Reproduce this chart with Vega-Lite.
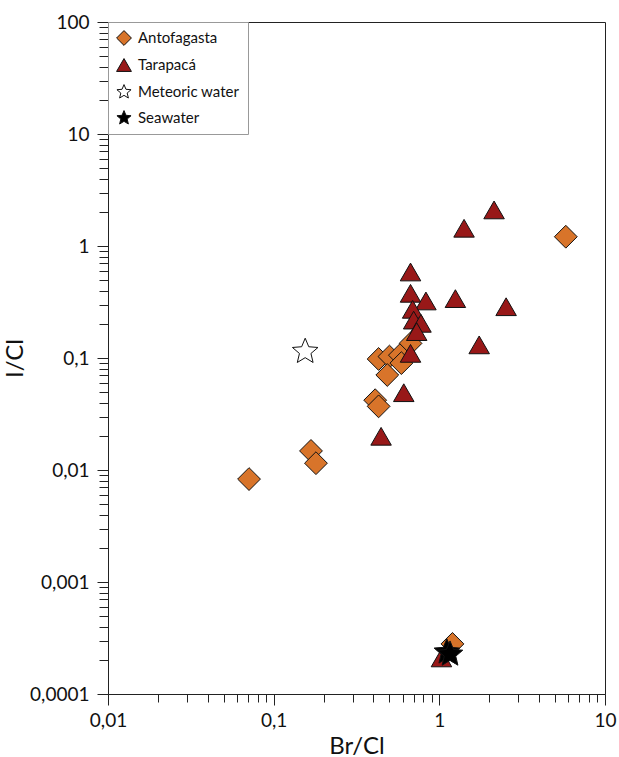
{
  "$schema": "https://vega.github.io/schema/vega-lite/v6.json",
  "autosize": {"type": "none"},
  "padding": {"left": 108, "top": 22, "right": 14, "bottom": 63},
  "width": 497,
  "height": 672,
  "background": "white",
  "config": {
    "font": "Lato",
    "view": {"stroke": "#222", "strokeWidth": 1},
    "axis": {
      "domainColor": "#222",
      "tickColor": "#222",
      "labelColor": "#111",
      "titleColor": "#111",
      "labelFontSize": 19,
      "titleFontSize": 24,
      "titleFontWeight": "normal",
      "labelFont": "Lato",
      "titleFont": "Lato",
      "grid": false,
      "labelOverlap": false,
      "labelFlush": false
    }
  },
  "data": {
    "values": [
      {"group": "Antofagasta", "br": 5.8, "i": 1.21},
      {"group": "Antofagasta", "br": 0.67, "i": 0.135},
      {"group": "Antofagasta", "br": 0.43, "i": 0.098},
      {"group": "Antofagasta", "br": 0.5, "i": 0.103},
      {"group": "Antofagasta", "br": 0.578, "i": 0.106},
      {"group": "Antofagasta", "br": 0.59, "i": 0.09},
      {"group": "Antofagasta", "br": 0.485, "i": 0.0705},
      {"group": "Antofagasta", "br": 0.41, "i": 0.042},
      {"group": "Antofagasta", "br": 0.43, "i": 0.037},
      {"group": "Antofagasta", "br": 0.071, "i": 0.0083},
      {"group": "Antofagasta", "br": 0.168, "i": 0.0148},
      {"group": "Antofagasta", "br": 0.18, "i": 0.0115},
      {"group": "Antofagasta", "br": 1.2, "i": 0.00028},
      {"group": "Tarapacá", "br": 2.14, "i": 2.1},
      {"group": "Tarapacá", "br": 1.41, "i": 1.44},
      {"group": "Tarapacá", "br": 0.67, "i": 0.586},
      {"group": "Tarapacá", "br": 0.67, "i": 0.378},
      {"group": "Tarapacá", "br": 0.83, "i": 0.323},
      {"group": "Tarapacá", "br": 1.25, "i": 0.339},
      {"group": "Tarapacá", "br": 2.53, "i": 0.287},
      {"group": "Tarapacá", "br": 0.69, "i": 0.272},
      {"group": "Tarapacá", "br": 0.7, "i": 0.218},
      {"group": "Tarapacá", "br": 0.775, "i": 0.204},
      {"group": "Tarapacá", "br": 0.73, "i": 0.172},
      {"group": "Tarapacá", "br": 1.74, "i": 0.131},
      {"group": "Tarapacá", "br": 0.67, "i": 0.11},
      {"group": "Tarapacá", "br": 0.61, "i": 0.049},
      {"group": "Tarapacá", "br": 0.445, "i": 0.02},
      {"group": "Tarapacá", "br": 1.03, "i": 0.00021},
      {"group": "Meteoric water", "br": 0.155, "i": 0.114},
      {"group": "Seawater", "br": 1.11, "i": 0.000236},
      {"group": "Seawater", "br": 1.16, "i": 0.000226}
    ]
  },
  "layer": [
    {
      "mark": {"type": "point", "opacity": 0},
      "encoding": {
        "x": {
          "field": "br", "type": "quantitative",
          "scale": {"type": "log", "domain": [0.01, 10], "nice": false},
          "axis": {
            "orient": "bottom",
            "title": null,
            "labels": false,
            "domain": false,
            "values": [0.02,0.03,0.04,0.05,0.06,0.07,0.08,0.09,0.2,0.3,0.4,0.5,0.6,0.7,0.8,0.9,2,3,4,5,6,7,8,9],
            "tickSize": 8
          }
        },
        "y": {
          "field": "i", "type": "quantitative",
          "scale": {"type": "log", "domain": [0.0001, 100], "nice": false},
          "axis": {
            "orient": "left",
            "title": null,
            "labels": false,
            "domain": false,
            "values": [0.0002,0.0003,0.0004,0.0005,0.0006,0.0007,0.0008,0.0009,0.002,0.003,0.004,0.005,0.006,0.007,0.008,0.009,0.02,0.03,0.04,0.05,0.06,0.07,0.08,0.09,0.2,0.3,0.4,0.5,0.6,0.7,0.8,0.9,2,3,4,5,6,7,8,9,20,30,40,50,60,70,80,90],
            "tickSize": 9
          }
        }
      }
    },
    {
      "encoding": {
        "x": {
          "field": "br", "type": "quantitative",
          "scale": {"type": "log", "domain": [0.01, 10], "nice": false},
          "axis": {
            "orient": "bottom",
            "title": "Br/Cl",
            "values": [0.01, 0.1, 1, 10],
            "labelExpr": "replace(datum.value + '', '.', ',')",
            "tickSize": 11,
            "labelPadding": 6,
            "titlePadding": 4
          }
        },
        "y": {
          "field": "i", "type": "quantitative",
          "scale": {"type": "log", "domain": [0.0001, 100], "nice": false},
          "axis": {
            "orient": "left",
            "title": "I/Cl",
            "values": [0.0001, 0.001, 0.01, 0.1, 1, 10, 100],
            "labelExpr": "replace(datum.value + '', '.', ',')",
            "tickSize": 11,
            "labelPadding": 8,
            "titlePadding": 2
          }
        },
        "color": {
          "field": "group", "type": "nominal",
          "scale": {"domain": ["Antofagasta", "Tarapacá", "Meteoric water", "Seawater"], "range": ["#D8742A", "#981818", "#FFFFFF", "#000000"]},
          "legend": {
            "title": null,
            "orient": "top-left",
            "offset": 0,
            "strokeColor": "#999",
            "fillColor": "white",
            "padding": 8,
            "labelFontSize": 15,
            "labelColor": "#111",
            "labelFont": "Lato",
            "symbolSize": 220,
            "symbolStrokeColor": "#111",
            "symbolStrokeWidth": 1,
            "rowPadding": 8,
            "labelOffset": 6,
            "encode": {
              "symbols": {
                "update": {
                  "size": {"signal": "datum.value == 'Antofagasta' ? 220 : datum.value == 'Tarapacá' ? 180 : 340"}
                }
              }
            }
          }
        },
        "shape": {
          "field": "group", "type": "nominal",
          "scale": {"domain": ["Antofagasta", "Tarapacá", "Meteoric water", "Seawater"], "range": ["diamond", "triangle-up", "M0,-1L0.265,-0.364L0.951,-0.309L0.428,0.139L0.588,0.809L0,0.45L-0.588,0.809L-0.428,0.139L-0.951,-0.309L-0.265,-0.364Z", "M0,-1L0.265,-0.364L0.951,-0.309L0.428,0.139L0.588,0.809L0,0.45L-0.588,0.809L-0.428,0.139L-0.951,-0.309L-0.265,-0.364Z"]}
        }
      },
      "layer": [
        {
          "transform": [{"filter": "datum.group == 'Antofagasta'"}],
          "mark": {"type": "point", "filled": true, "opacity": 1, "stroke": "#111", "strokeWidth": 1, "size": 520}
        },
        {
          "transform": [{"filter": "datum.group == 'Tarapacá'"}],
          "mark": {"type": "point", "filled": true, "opacity": 1, "stroke": "#111", "strokeWidth": 1, "size": 420}
        },
        {
          "transform": [{"filter": "datum.group == 'Meteoric water' || datum.group == 'Seawater'"}],
          "mark": {"type": "point", "filled": true, "opacity": 1, "stroke": "#111", "strokeWidth": 1, "size": 720}
        }
      ]
    }
  ],
  "resolve": {"axis": {"x": "independent", "y": "independent"}}
}
